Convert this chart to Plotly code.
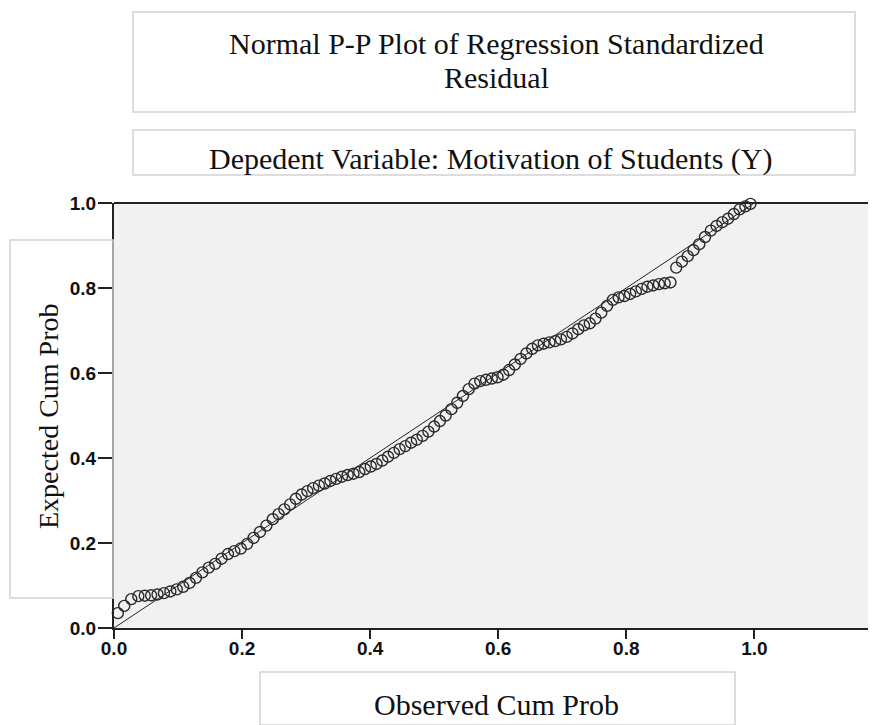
import plotly.graph_objects as go

observed = [0.006, 0.016, 0.027, 0.038, 0.048, 0.058, 0.068, 0.078, 0.088, 0.098,
            0.108, 0.118, 0.128, 0.138, 0.148, 0.158, 0.168, 0.178, 0.188, 0.198,
            0.208, 0.218, 0.228, 0.238, 0.248, 0.257, 0.266, 0.275, 0.284, 0.293,
            0.302, 0.311, 0.320, 0.329, 0.338, 0.347, 0.356, 0.365, 0.374, 0.383,
            0.392, 0.401, 0.410, 0.419, 0.428, 0.437, 0.446, 0.455, 0.464, 0.473,
            0.482, 0.491, 0.500, 0.509, 0.518, 0.527, 0.536, 0.545, 0.554, 0.563,
            0.572, 0.581, 0.590, 0.599, 0.608, 0.617, 0.626, 0.635, 0.644, 0.653,
            0.662, 0.671, 0.680, 0.689, 0.698, 0.707, 0.716, 0.725, 0.734, 0.743,
            0.752, 0.761, 0.770, 0.779, 0.788, 0.797, 0.806, 0.815, 0.824, 0.833,
            0.842, 0.851, 0.860, 0.869, 0.878, 0.887, 0.896, 0.905, 0.914, 0.923,
            0.932, 0.941, 0.950, 0.959, 0.968, 0.977, 0.986, 0.994]
expected = [0.035, 0.052, 0.068, 0.075, 0.076, 0.077, 0.079, 0.082, 0.086, 0.091,
            0.097, 0.106, 0.118, 0.131, 0.142, 0.151, 0.163, 0.174, 0.181, 0.187,
            0.198, 0.212, 0.226, 0.241, 0.256, 0.268, 0.279, 0.291, 0.304, 0.314,
            0.322, 0.329, 0.335, 0.340, 0.346, 0.351, 0.356, 0.360, 0.363, 0.367,
            0.374, 0.380, 0.386, 0.394, 0.403, 0.412, 0.421, 0.428, 0.436, 0.443,
            0.452, 0.462, 0.474, 0.487, 0.500, 0.515, 0.530, 0.546, 0.562, 0.575,
            0.581, 0.584, 0.587, 0.590, 0.596, 0.607, 0.620, 0.633, 0.646, 0.657,
            0.665, 0.669, 0.672, 0.675, 0.679, 0.685, 0.693, 0.703, 0.712, 0.717,
            0.728, 0.742, 0.758, 0.772, 0.778, 0.781, 0.786, 0.792, 0.798, 0.803,
            0.806, 0.809, 0.811, 0.813, 0.848, 0.862, 0.875, 0.889, 0.903, 0.920,
            0.935, 0.946, 0.955, 0.963, 0.974, 0.985, 0.992, 0.998]
ref_line = [0.0, 1.0]
tick_vals = [0.0, 0.2, 0.4, 0.6, 0.8, 1.0]
tick_text = ["0.0", "0.2", "0.4", "0.6", "0.8", "1.0"]

title_line1 = "Normal P-P Plot of Regression Standardized"
title_line2 = "Residual"
subtitle_text = "Depedent Variable: Motivation of Students (Y)"
x_title = "Observed Cum Prob"
y_title = "Expected Cum Prob"

OFF = 8  # page body margin
W, H = 876 - OFF, 725 - OFF
L, R, T = 114 - OFF, 0, 203 - OFF
B = H - (628 - OFF)
PW, PH = W - L - R, H - T - B


def px(x):
    return (x - OFF - L) / PW


def py(y):
    return 1 - (y - OFF - T) / PH


fig = go.Figure()
fig.add_trace(go.Scatter(x=ref_line, y=ref_line, mode="lines",
                         line=dict(color="#222222", width=1), hoverinfo="skip",
                         showlegend=False))
fig.add_trace(go.Scatter(x=observed, y=expected, mode="markers",
                         marker=dict(symbol="circle-open", size=11,
                                     line=dict(color="#2a2a2a", width=1.4),
                                     color="#2a2a2a"),
                         cliponaxis=False, showlegend=False))

serif = "Liberation Serif, Times New Roman, serif"
box_col = "#d2d2d2"
boxes = [
    (133, 12, 855, 112),
    (133, 130, 855, 175),
    (260, 672, 735, 725),
    (10, 240, 113, 598),
]
shapes = []
for x0, y0, x1, y1 in boxes:
    shapes.append(dict(type="rect", xref="paper", yref="paper",
                       x0=px(x0), x1=px(x1), y0=py(y1), y1=py(y0),
                       line=dict(color=box_col, width=1.5), fillcolor="rgba(0,0,0,0)"))
shapes.append(dict(type="line", xref="paper", yref="paper", x0=0, x1=1, y0=1, y1=1,
                   line=dict(color="#222222", width=2)))

txt_font = dict(family=serif, size=30, color="#111111")
annotations = [
    dict(text=title_line1, x=px(497), y=py(43), xref="paper", yref="paper",
         showarrow=False, font=txt_font, xanchor="center", yanchor="middle"),
    dict(text=title_line2, x=px(497), y=py(77), xref="paper", yref="paper",
         showarrow=False, font=txt_font, xanchor="center", yanchor="middle"),
    dict(text=subtitle_text, x=px(491), y=py(159), xref="paper", yref="paper",
         showarrow=False, font=txt_font, xanchor="center", yanchor="middle"),
    dict(text=x_title, x=px(496), y=py(704), xref="paper", yref="paper",
         showarrow=False, font=txt_font, xanchor="center", yanchor="middle"),
    dict(text=y_title, x=px(48), y=py(416), xref="paper", yref="paper",
         showarrow=False, font=dict(family=serif, size=28, color="#111111"),
         textangle=-90, xanchor="center", yanchor="middle"),
]

tick_font = dict(family="Liberation Sans, Arial, sans-serif", size=19, color="#111111")
fig.update_layout(
    width=W, height=H,
    margin=dict(l=L, r=R, t=T, b=B, pad=0),
    paper_bgcolor="white",
    plot_bgcolor="#f1f1f1",
    shapes=shapes,
    annotations=annotations,
    xaxis=dict(range=[0, 1.19], tickvals=tick_vals,
               ticktext=["<b>%s</b>" % t for t in tick_text],
               showgrid=False, zeroline=False, showline=True, linecolor="#222222",
               linewidth=2, ticks="outside", ticklen=9, tickwidth=1.5, tickcolor="#222222",
               tickfont=tick_font, ticklabelstandoff=-7),
    yaxis=dict(range=[0, 1.0], tickvals=tick_vals,
               ticktext=["<b>%s</b>" % t for t in tick_text],
               showgrid=False, zeroline=False, showline=True, linecolor="#222222",
               linewidth=2, ticks="outside", ticklen=14, tickwidth=1.5, tickcolor="#222222",
               tickfont=tick_font, ticklabelstandoff=-2),
)

fig.write_html("out.html")
